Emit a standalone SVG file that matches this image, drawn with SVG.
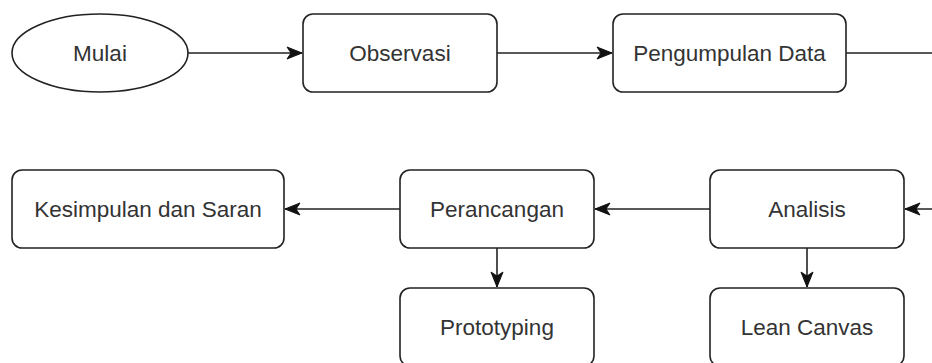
<svg xmlns="http://www.w3.org/2000/svg" width="932" height="363" viewBox="0 0 932 363">
<style>
.n{fill:#fff;stroke:#222;stroke-width:1.6}
.t{font-family:"Liberation Sans",Arial,sans-serif;font-size:22.5px;fill:#333;text-anchor:middle}
.c{fill:none;stroke:#222;stroke-width:1.6}
</style>
<defs>
<marker id="a" markerUnits="userSpaceOnUse" markerWidth="18" markerHeight="16" viewBox="0 0 18 16" refX="16" refY="8" orient="auto">
<path d="M1,2 L16,8 L1,14 L5,8 Z" fill="#111" stroke="#111" stroke-width="1"/>
</marker>
</defs>
<rect width="932" height="363" fill="#fff"/>
<g id="connectors">
<path class="c" d="M188,53 H302" marker-end="url(#a)"/>
<path class="c" d="M497,53 H612" marker-end="url(#a)"/>
<path class="c" d="M846,53 H950 V209 H905" marker-end="url(#a)"/>
<path class="c" d="M710,209 H595" marker-end="url(#a)"/>
<path class="c" d="M400,209 H285" marker-end="url(#a)"/>
<path class="c" d="M497,248 V287" marker-end="url(#a)"/>
<path class="c" d="M807,248 V287" marker-end="url(#a)"/>
</g>
<g id="mulai"><ellipse class="n" cx="100" cy="53" rx="88" ry="39"/><text class="t" x="100" y="61">Mulai</text></g>
<g id="observasi"><rect class="n" x="303" y="14" width="194" height="78" rx="10"/><text class="t" x="400" y="61">Observasi</text></g>
<g id="pengumpulan"><rect class="n" x="613" y="14" width="233" height="78" rx="10"/><text class="t" x="729.5" y="61">Pengumpulan Data</text></g>
<g id="kesimpulan"><rect class="n" x="12" y="170" width="272" height="78" rx="10"/><text class="t" x="148" y="217">Kesimpulan dan Saran</text></g>
<g id="perancangan"><rect class="n" x="400" y="170" width="194" height="78" rx="10"/><text class="t" x="497" y="217">Perancangan</text></g>
<g id="analisis"><rect class="n" x="710" y="170" width="194" height="78" rx="10"/><text class="t" x="807" y="217">Analisis</text></g>
<g id="prototyping"><rect class="n" x="400" y="288" width="194" height="78" rx="10"/><text class="t" x="497" y="335">Prototyping</text></g>
<g id="leancanvas"><rect class="n" x="710" y="288" width="194" height="78" rx="10"/><text class="t" x="807" y="335">Lean Canvas</text></g>
</svg>
